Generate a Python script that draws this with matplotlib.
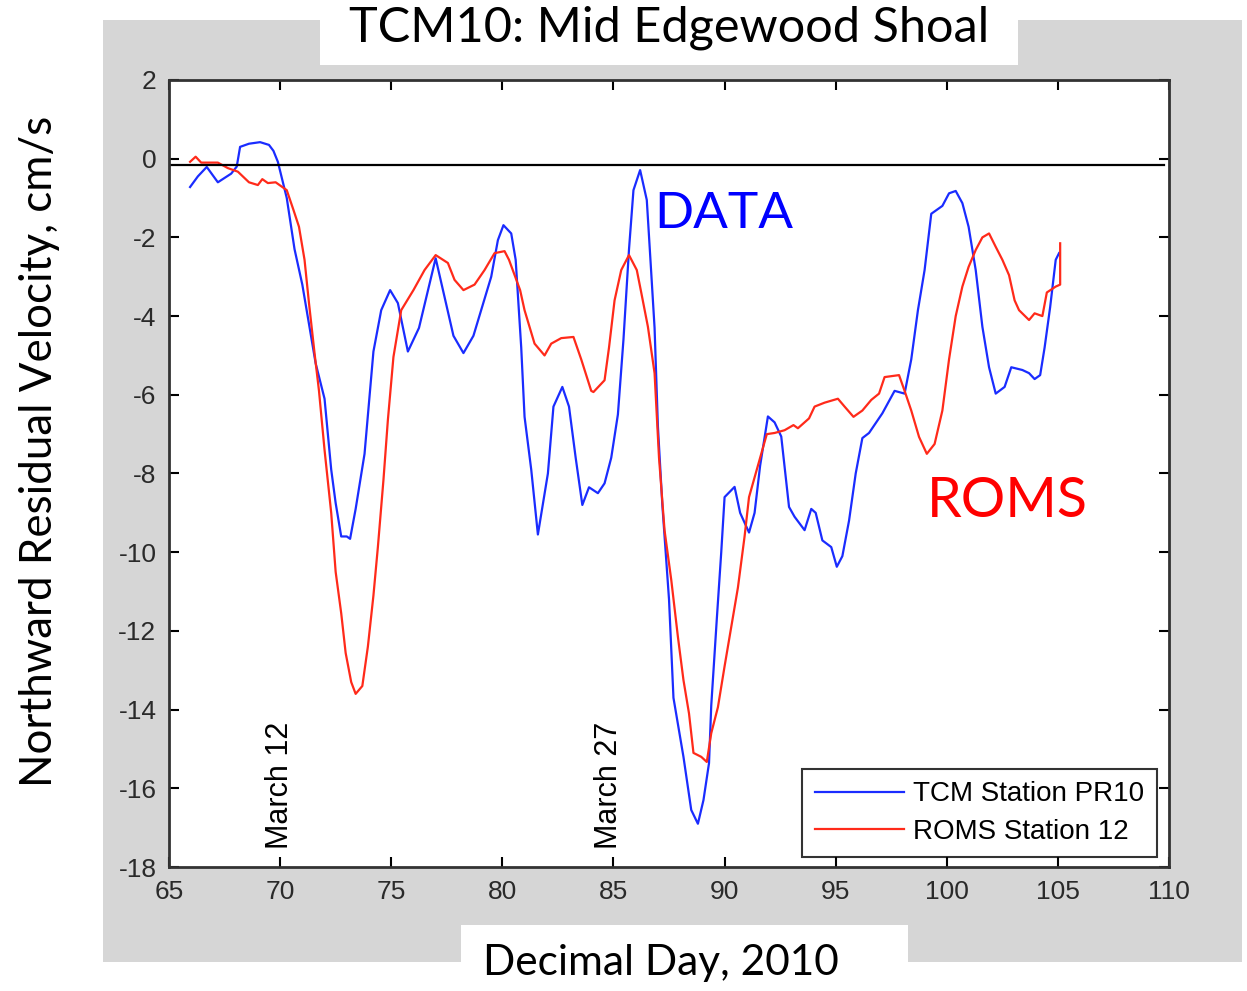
import matplotlib
matplotlib.use("Agg")
import matplotlib.pyplot as plt
import matplotlib.patches as patches

plt.rcParams["axes.unicode_minus"] = False

# TCM station PR10 (DATA), decimal day vs northward residual velocity (cm/s)
tcm_day = [65.95, 66.3, 66.7, 67.2, 67.8, 68.05, 68.2, 68.6, 69.1, 69.5, 69.7, 69.9,
           70.3, 70.65, 71.0, 71.3, 71.6, 72.0, 72.3, 72.5, 72.75, 73.0, 73.15, 73.4,
           73.8, 74.2, 74.55, 74.95, 75.3, 75.75, 76.0, 76.25, 77.0, 77.8, 78.25, 78.7,
           79.5, 79.8, 80.05, 80.4, 80.6, 80.85, 81.0, 81.3, 81.6, 82.05, 82.3, 82.7,
           83.0, 83.3, 83.6, 83.9, 84.3, 84.6, 84.9, 85.2, 85.45, 85.7, 85.9, 86.2,
           86.5, 86.7, 86.85, 87.0, 87.2, 87.5, 87.7, 88.15, 88.5, 88.8, 89.05, 89.3,
           89.4, 89.65, 89.85, 90.0, 90.45, 90.7, 91.1, 91.35, 91.6, 91.95, 92.25, 92.55,
           92.9, 93.15, 93.6, 93.9, 94.1, 94.4, 94.8, 95.05, 95.3, 95.6, 95.9, 96.2,
           96.5, 97.1, 97.65, 98.1, 98.4, 98.7, 99.0, 99.3, 99.8, 100.1, 100.4, 100.7,
           100.98, 101.3, 101.6, 101.9, 102.2, 102.6, 102.9, 103.4, 103.7, 103.95, 104.2,
           104.4, 104.65, 104.9, 105.05]
tcm_vel = [-0.72, -0.45, -0.21, -0.6, -0.38, -0.2, 0.3, 0.38, 0.42, 0.35, 0.2, -0.08,
           -1.0, -2.3, -3.2, -4.2, -5.2, -6.1, -7.9, -8.75, -9.6, -9.6, -9.66, -8.9,
           -7.5, -4.9, -3.85, -3.34, -3.67, -4.9, -4.6, -4.3, -2.53, -4.5, -4.94, -4.5,
           -3.0, -2.07, -1.69, -1.9, -2.57, -4.8, -6.56, -7.9, -9.55, -8.0, -6.3, -5.8,
           -6.3, -7.6, -8.8, -8.35, -8.5, -8.25, -7.6, -6.5, -4.6, -2.3, -0.8, -0.29,
           -1.05, -2.9, -4.3, -6.8, -8.8, -11.2, -13.7, -15.2, -16.55, -16.9, -16.3, -15.36,
           -13.9, -11.7, -10.0, -8.6, -8.34, -9.0, -9.5, -9.0, -7.8, -6.55, -6.7, -7.06,
           -8.85, -9.1, -9.44, -8.9, -9.0, -9.7, -9.87, -10.37, -10.1, -9.2, -8.0, -7.1,
           -6.97, -6.47, -5.9, -5.97, -5.1, -3.85, -2.83, -1.4, -1.2, -0.88, -0.82, -1.13,
           -1.73, -2.83, -4.27, -5.3, -5.97, -5.8, -5.3, -5.37, -5.45, -5.6, -5.5,
           -4.8, -3.77, -2.57, -2.4]

# ROMS station 12 (model)
roms_day = [65.95, 66.2, 66.45, 67.2, 67.65, 68.1, 68.6, 69.0, 69.2, 69.45, 69.8, 70.3,
            70.6, 70.85, 71.1, 71.3, 71.55, 71.75, 72.0, 72.3, 72.5, 72.75, 72.95, 73.2,
            73.4, 73.7, 73.95, 74.2, 74.4, 74.65, 74.85, 75.1, 75.45, 76.0, 76.5, 77.0,
            77.55, 77.85, 78.25, 78.75, 79.2, 79.65, 80.1, 80.3, 80.8, 81.0, 81.45, 81.9,
            82.2, 82.65, 83.2, 83.55, 84.0, 84.1, 84.6, 84.8, 85.05, 85.35, 85.7, 86.05,
            86.25, 86.55, 86.85, 87.05, 87.3, 87.6, 87.9, 88.15, 88.4, 88.6, 88.95, 89.2,
            89.4, 89.7, 90.0, 90.3, 90.6, 90.9, 91.1, 91.45, 91.65, 91.9, 92.25, 92.7,
            93.1, 93.3, 93.8, 94.05, 94.5, 95.1, 95.4, 95.8, 96.2, 96.6, 96.95, 97.2,
            97.85, 98.1, 98.4, 98.75, 99.1, 99.45, 99.8, 100.1, 100.4, 100.7, 100.98,
            101.3, 101.6, 101.9, 102.2, 102.5, 102.8, 103.05, 103.25, 103.7, 103.95,
            104.3, 104.5, 104.9, 105.1, 105.1]
roms_vel = [-0.08, 0.05, -0.1, -0.1, -0.24, -0.33, -0.6, -0.67, -0.52, -0.62, -0.6, -0.8,
            -1.3, -1.73, -2.57, -3.67, -4.94, -5.9, -7.4, -9.0, -10.5, -11.55, -12.56, -13.3,
            -13.6, -13.4, -12.4, -11.1, -9.87, -8.17, -6.64, -5.04, -3.85, -3.34, -2.83, -2.45,
            -2.65, -3.08, -3.34, -3.2, -2.83, -2.4, -2.35, -2.57, -3.34, -3.85, -4.7, -5.0,
            -4.7, -4.56, -4.53, -5.1, -5.9, -5.93, -5.63, -4.8, -3.6, -2.83, -2.45, -2.83,
            -3.4, -4.27, -5.45, -7.6, -9.45, -10.7, -12.15, -13.25, -14.1, -15.1, -15.2, -15.33,
            -14.6, -13.94, -12.9, -11.9, -10.9, -9.6, -8.6, -7.9, -7.5, -7.0, -6.97, -6.9,
            -6.77, -6.85, -6.6, -6.3, -6.2, -6.1, -6.3, -6.56, -6.4, -6.13, -5.97, -5.55,
            -5.5, -5.9, -6.4, -7.07, -7.5, -7.25, -6.4, -5.1, -4.0, -3.25, -2.75,
            -2.32, -2.0, -1.9, -2.24, -2.57, -2.96, -3.6, -3.85, -4.1, -3.93,
            -4.0, -3.4, -3.25, -3.2, -2.15]

zero_ref = -0.15
xticks = list(range(65, 111, 5))
yticks = list(range(-18, 3, 2))
date_marks = [(70.0, "March 12"), (84.8, "March 27")]

fig = plt.figure(figsize=(12.47, 9.91), dpi=100)
fig.patch.set_facecolor("white")

# grey matlab figure background and the white boxes pasted over it
fig.patches.append(patches.Rectangle((0.0826, 0.029), 0.9134, 0.951, transform=fig.transFigure,
                                     fc="#d6d6d6", ec="none", zorder=0))
fig.patches.append(patches.Rectangle((0.257, 0.934), 0.559, 0.07, transform=fig.transFigure,
                                     fc="white", ec="none", zorder=1))
fig.patches.append(patches.Rectangle((0.370, 0.0), 0.358, 0.0666, transform=fig.transFigure,
                                     fc="white", ec="none", zorder=1))

ax = fig.add_axes([0.1355, 0.1251, 0.802, 0.7942])
ax.set_zorder(5)
ax.set_facecolor("white")

ax.plot(tcm_day, tcm_vel, color="#1a2cff", lw=1.6, label="TCM Station PR10")
ax.plot(roms_day, roms_vel, color="#ff2a1a", lw=1.6, label="ROMS Station 12")
ax.plot([65, 109.75], [zero_ref, zero_ref], color="black", lw=1.6)

for day, lab in date_marks:
    ax.text(day, -17.55, lab, rotation=90, ha="center", va="bottom",
            fontsize=22, family="Liberation Sans")

ax.text(86.85, -1.4, "DATA", color="#0000ff", fontsize=37, family="Lato", va="center")
ax.text(99.1, -8.7, "ROMS", color="#ff0000", fontsize=40, family="Lato", va="center")

ax.set_xlim(65, 110)
ax.set_ylim(-18, 2)
ax.set_xticks(xticks)
ax.set_yticks(yticks)
ax.tick_params(direction="in", length=7, width=1.5, top=True, right=True,
               labelsize=19, labelcolor="#2a2a2a", pad=9)
for lab in ax.get_xticklabels() + ax.get_yticklabels():
    lab.set_family("Liberation Sans")
for sp in ax.spines.values():
    sp.set_linewidth(2)
    sp.set_color("#333333")

leg = ax.legend(loc="lower right", bbox_to_anchor=(0.988, 0.0127), borderaxespad=0,
                frameon=True, fancybox=False, handlelength=3.2, borderpad=0.45,
                labelspacing=0.4, handletextpad=0.35,
                prop={"family": "Liberation Sans", "size": 20})
leg.get_frame().set_edgecolor("black")
leg.get_frame().set_linewidth(1.5)

fig.text(0.5365, 0.972, "TCM10: Mid Edgewood Shoal", ha="center", va="center",
         fontsize=35, family="Lato", zorder=6)
fig.text(0.530, 0.028, "Decimal Day, 2010", ha="center", va="center",
         fontsize=30.5, family="Lato", zorder=6)
fig.text(0.032, 0.545, "Northward Residual Velocity, cm/s", rotation=90,
         ha="center", va="center", fontsize=31.6, family="Lato", zorder=6)

fig.savefig("out.png", dpi=100)
